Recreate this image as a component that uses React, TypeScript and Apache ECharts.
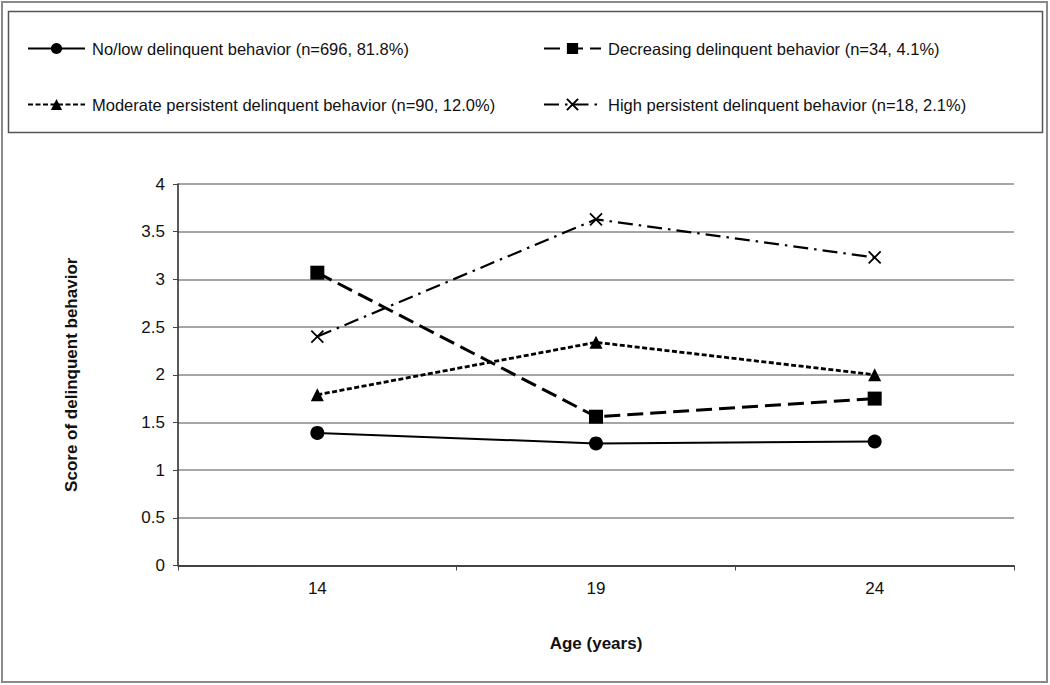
import React, { useEffect, useRef } from "react";
import * as echarts from "echarts";

const ages = ["14", "19", "24"];
const noLow = [1.39, 1.28, 1.3];
const decreasing = [3.07, 1.56, 1.75];
const moderate = [1.79, 2.34, 2.0];
const high = [2.4, 3.63, 3.23];
const seriesNames = [
  "No/low delinquent behavior (n=696, 81.8%)",
  "Decreasing delinquent behavior (n=34, 4.1%)",
  "Moderate persistent delinquent behavior (n=90, 12.0%)",
  "High persistent delinquent behavior (n=18, 2.1%)",
];

const FONT = "Liberation Sans, Arial, sans-serif";
const X_SYMBOL = "path://M0,0L10,10M10,0L0,10";

export default function App() {
  const ref = useRef<HTMLDivElement>(null);
  useEffect(() => {
    if (!ref.current) return;
    const chart = echarts.init(ref.current, null, { renderer: "svg" });
    const legendBase = {
      itemWidth: 57,
      itemHeight: 14,
      itemGap: 0,
      textStyle: { fontFamily: FONT, fontSize: 16.5, color: "#111", padding: [0, 0, 0, 2] },
      selectedMode: false,
      padding: 0,
    };
    chart.setOption({
      animation: false,
      backgroundColor: "#fff",
      textStyle: { fontFamily: FONT },
      graphic: [
        {
          type: "rect",
          shape: { x: 2, y: 2, width: 1045, height: 680 },
          style: { fill: "none", stroke: "#8a8a8a", lineWidth: 2 },
          silent: true,
        },
        {
          type: "rect",
          shape: { x: 8.5, y: 11.5, width: 1034, height: 121 },
          style: { fill: "none", stroke: "#555", lineWidth: 1.5 },
          silent: true,
        },
      ],
      legend: [
        { ...legendBase, data: [seriesNames[0]], left: 27, top: 40 },
        { ...legendBase, data: [seriesNames[1]], left: 543, top: 40 },
        { ...legendBase, data: [seriesNames[2]], left: 27, top: 96 },
        { ...legendBase, data: [seriesNames[3]], left: 543, top: 96 },
      ],
      grid: { left: 178, top: 184, right: 36, bottom: 119.5 },
      xAxis: {
        type: "category",
        data: ages,
        boundaryGap: true,
        name: "Age (years)",
        nameLocation: "middle",
        nameGap: 69,
        nameTextStyle: { fontFamily: FONT, fontSize: 17, fontWeight: "bold", color: "#111" },
        axisLine: { lineStyle: { color: "#222", width: 1.5 } },
        axisTick: { show: true, length: 5, lineStyle: { color: "#444" } },
        axisLabel: { fontFamily: FONT, fontSize: 17, color: "#111", margin: 14 },
        splitLine: { show: false },
      },
      yAxis: {
        type: "value",
        min: 0,
        max: 4,
        interval: 0.5,
        name: "Score of delinquent behavior",
        nameLocation: "middle",
        nameGap: 98,
        nameTextStyle: { fontFamily: FONT, fontSize: 17, fontWeight: "bold", color: "#111" },
        axisLine: { show: true, lineStyle: { color: "#222", width: 1.5 } },
        axisTick: { show: true, length: 5, lineStyle: { color: "#444" } },
        axisLabel: { fontFamily: FONT, fontSize: 17, color: "#111", margin: 13 },
        splitLine: { show: true, lineStyle: { color: "#a6a6a6", width: 2 } },
      },
      series: [
        {
          name: seriesNames[0],
          type: "line",
          data: noLow,
          symbol: "circle",
          symbolSize: 14,
          itemStyle: { color: "#000" },
          lineStyle: { color: "#000", width: 2, type: "solid" },
        },
        {
          name: seriesNames[1],
          type: "line",
          data: decreasing,
          symbol: "rect",
          symbolSize: 14,
          itemStyle: { color: "#000" },
          lineStyle: { color: "#000", width: 3, type: [16, 7] },
        },
        {
          name: seriesNames[2],
          type: "line",
          data: moderate,
          symbol: "triangle",
          symbolSize: 13,
          itemStyle: { color: "#000" },
          lineStyle: { color: "#000", width: 2.8, type: [5, 2.5] },
        },
        {
          name: seriesNames[3],
          type: "line",
          data: high,
          symbol: X_SYMBOL,
          symbolSize: 12,
          itemStyle: { color: "#000", borderColor: "#000", borderWidth: 1.8 },
          lineStyle: { color: "#000", width: 2.2, type: [15, 6, 2.5, 6] },
        },
      ],
    });
    return () => chart.dispose();
  }, []);
  return (
    <div
      ref={ref}
      style={{ position: "absolute", left: 0, top: 0, width: 1050, height: 685 }}
    />
  );
}
